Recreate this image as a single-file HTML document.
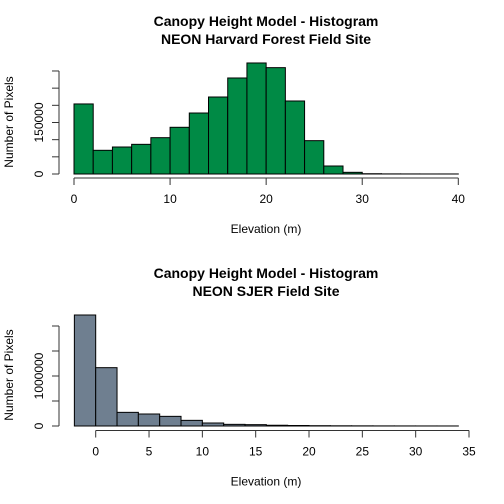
<!DOCTYPE html>
<html><head><meta charset="utf-8"><style>body{margin:0;background:#fff}svg{display:block;font-family:"Liberation Sans",sans-serif}</style></head>
<body>
<svg id="s" width="504" height="504" viewBox="0 0 504 504"></svg>
<script>
const topBreaks=[0,2,4,6,8,10,12,14,16,18,20,22,24,26,28,30,32,34,36,38,40];
const topCounts=[204000,69000,78600,86400,105800,136000,177600,224200,279600,323300,309700,212600,97100,23300,4900,800,300,200,100,100];
const topYTicks=[0,50000,100000,150000,200000,250000,300000];
const topYLabels=["0","","","150000","","",""];
const topXTicks=[0,10,20,30,40];
const botBreaks=[-2,0,2,4,6,8,10,12,14,16,18,20,22,24,26,28,30,32,34];
const botCounts=[2220000,1166700,273000,240000,193000,113000,60000,33000,27000,15000,10000,6000,4000,3000,2000,1500,1000,800];
const botYTicks=[0,500000,1000000,1500000,2000000];
const botYLabels=["0","","1000000","",""];
const botXTicks=[0,5,10,15,20,25,30,35];
const NS="http://www.w3.org/2000/svg";
const svg=document.getElementById('s');
function mk(t,a,txt){const e=document.createElementNS(NS,t);for(const k in a)e.setAttribute(k,a[k]);if(txt!==undefined)e.textContent=txt;svg.appendChild(e);return e;}
function panel(o){
 const sx=v=>o.x0+(v-o.d0)*(o.x1-o.x0)/(o.d1-o.d0);
 const sy=v=>o.y0-v*o.ppu;
 for(let i=0;i<o.counts.length;i++){
  const x=sx(o.breaks[i]),w=sx(o.breaks[i+1])-x,y=sy(o.counts[i]);
  const r=mk('rect',{x:x,y:y,width:w,height:o.y0-y,fill:o.fill,stroke:'#000','stroke-width':1});
  
  
 }
 const xa=mk('line',{x1:sx(o.xt[0]),x2:sx(o.xt[o.xt.length-1]),y1:o.axy,y2:o.axy,stroke:'#333'});
 
 o.xt.forEach(t=>{mk('line',{x1:sx(t),x2:sx(t),y1:o.axy,y2:o.axy+7,stroke:'#333'});
  const l=mk('text',{x:sx(t),y:o.axy+25,'text-anchor':'middle','font-size':12},String(t));
  });
 const yt=o.yt;
 const ya=mk('line',{x1:59,x2:59,y1:sy(yt[0]),y2:sy(yt[yt.length-1]),stroke:'#333'});
 
 yt.forEach((t,i)=>{const y=sy(t);mk('line',{x1:52,x2:59,y1:y,y2:y,stroke:'#333'});
  if(o.yl[i]){const l=mk('text',{x:43,y:y,'text-anchor':'middle','font-size':12,transform:`rotate(-90 43 ${y})`},o.yl[i]);
  }});
 const cx=(o.x0+o.x1)/2+(o.id==='bottom'?0:0);
 const t1=mk('text',{x:266,y:o.ty,'text-anchor':'middle','font-size':14,'font-weight':'bold'},'Canopy Height Model - Histogram');
 
 const t2=mk('text',{x:266,y:o.ty+18,'text-anchor':'middle','font-size':14,'font-weight':'bold'},o.sub);
 
 const xl=mk('text',{x:266,y:o.axy+55,'text-anchor':'middle','font-size':12},'Elevation (m)');
 
 const yc=o.ymid;
 const yl=mk('text',{x:13,y:yc,'text-anchor':'middle','font-size':12,transform:`rotate(-90 13 ${yc})`},'Number of Pixels');
 
}
panel({id:'top',breaks:topBreaks,counts:topCounts,xt:topXTicks,yt:topYTicks,yl:topYLabels,x0:74,x1:458.3,d0:0,d1:40,y0:174,ppu:17.17/50000,axy:178,fill:'#008a45',ty:26,sub:'NEON Harvard Forest Field Site',ymid:122});
panel({id:'bottom',breaks:botBreaks,counts:botCounts,xt:botXTicks,yt:botYTicks,yl:botYLabels,x0:95.7,x1:469,d0:0,d1:35,y0:426,ppu:25/500000,axy:430.5,fill:'#6f7f90',ty:278,sub:'NEON SJER Field Site',ymid:375});
</script>
</body></html>
